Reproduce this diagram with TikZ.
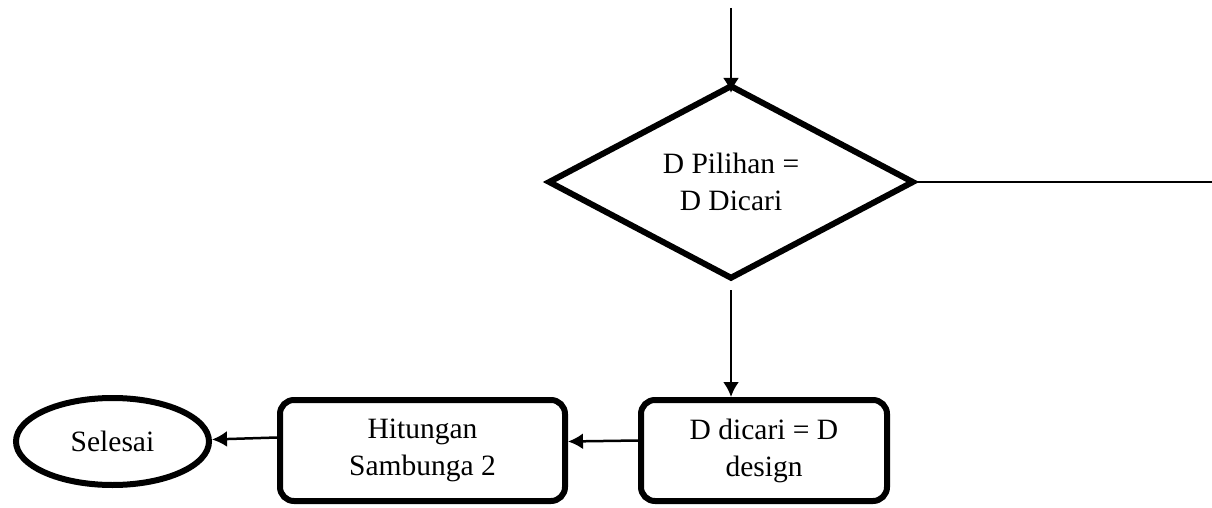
\documentclass[tikz,border=0pt]{standalone}
\usepackage{fontspec}
\setmainfont{Liberation Serif}
\usetikzlibrary{shapes.geometric,arrows.meta}

\begin{document}
\begin{tikzpicture}[x=1pt,y=-1pt,
  every node/.style={font=\fontsize{29.5}{37}\selectfont, align=center, inner sep=0pt},
  shapeline/.style={draw=black, line width=6pt},
  decision/.style={shapeline, diamond, minimum width=366pt, minimum height=178pt},
  procbox/.style={shapeline, rectangle, rounded corners=14pt, minimum height=101pt},
  terminal/.style={shapeline, ellipse, minimum width=193pt, minimum height=87pt},
  conn/.style={draw=black, line width=2.5pt},
  arr/.style={conn, -{Latex[length=15pt,width=16pt]}}
]
\useasboundingbox (0,0) rectangle (1212,508);

% decision and process nodes
\node[decision] (dia) at (731,182) {D Pilihan =\\D Dicari};
\node[procbox, minimum width=246pt] (dd) at (764,450.5) {D dicari = D\\design};
\node[procbox, minimum width=285pt] (hit) at (422.5,450.5) {Hitungan\\Sambunga 2};
\node[terminal] (sel) at (112.5,441.5) {Selesai};

% free ends of the open connectors
\coordinate (top) at (731,8);
\coordinate (right) at (1212,182);

% connectors
\draw[arr, shorten >=-11pt] (top) -- (dia.north);
\draw[conn] (dia.east) -- (right);
\draw[arr, shorten <=8pt] (dia.south) -- (dia.south |- dd.north);
\draw[arr] ([yshift=10pt]dd.west) -- ([yshift=9pt]hit.east);
\draw[arr] ([yshift=13pt]hit.west) -- ([yshift=2pt]sel.east);
\end{tikzpicture}
\end{document}
